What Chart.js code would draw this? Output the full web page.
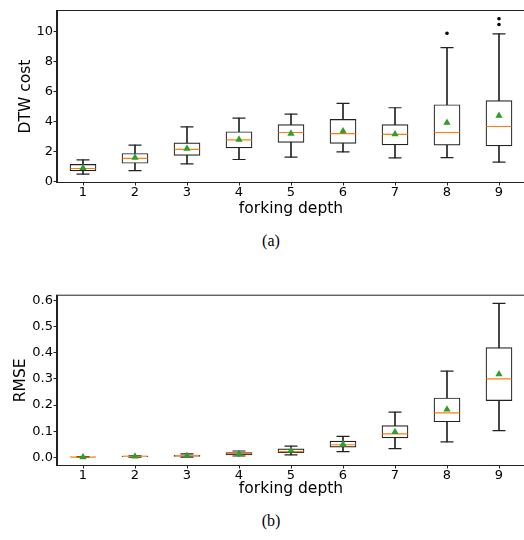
<!DOCTYPE html>
<html>
<head>
<meta charset="utf-8">
<script src="https://cdn.jsdelivr.net/npm/chart.js@4.4.1/dist/chart.umd.min.js"></script>
<style>
  body { margin: 0; width: 524px; height: 540px; overflow: hidden; background: #fff; position: relative; }
  canvas { position: absolute; left: 0; }
  .cap { position: absolute; width: 100px; left: 221px; text-align: center;
         font-family: "Liberation Serif", serif; font-size: 16px; color: #000; }
</style>
</head>
<body>
<canvas id="dtwChart" width="526" height="225" style="top:0"></canvas>
<div class="cap" style="top:232px">(a)</div>
<canvas id="rmseChart" width="526" height="225" style="top:280px"></canvas>
<div class="cap" style="top:512px">(b)</div>
<script>
// forking depth categories
const depths = ['1', '2', '3', '4', '5', '6', '7', '8', '9'];

// (a) DTW cost box stats
const dtwLow  = [0.49, 0.73, 1.18, 1.47, 1.63, 1.98, 1.58, 1.60, 1.29];
const dtwQ1   = [0.71, 1.22, 1.74, 2.25, 2.61, 2.54, 2.45, 2.43, 2.38];
const dtwMed  = [0.87, 1.54, 2.14, 2.78, 3.27, 3.20, 3.14, 3.27, 3.67];
const dtwQ3   = [1.14, 1.87, 2.58, 3.32, 3.79, 4.14, 3.79, 5.12, 5.39];
const dtwHigh = [1.45, 2.43, 3.65, 4.23, 4.50, 5.21, 4.92, 8.93, 9.84];
const dtwMean = [0.91, 1.60, 2.20, 2.80, 3.20, 3.36, 3.16, 3.92, 4.39];
const dtwFliers = [{x: '8', y: 9.89}, {x: '9', y: 10.47}, {x: '9', y: 10.85}];
const dtwTicks = [0, 2, 4, 6, 8, 10];

// (b) RMSE box stats
const rmseLow  = [0.000, 0.001, 0.001, 0.005, 0.009, 0.022, 0.033, 0.059, 0.102];
const rmseQ1   = [0.000, 0.002, 0.003, 0.009, 0.018, 0.039, 0.074, 0.136, 0.217];
const rmseMed  = [0.001, 0.004, 0.006, 0.014, 0.022, 0.048, 0.090, 0.170, 0.300];
const rmseQ3   = [0.002, 0.005, 0.008, 0.018, 0.032, 0.062, 0.121, 0.227, 0.420];
const rmseHigh = [0.003, 0.006, 0.013, 0.024, 0.043, 0.080, 0.173, 0.330, 0.589];
const rmseMean = [0.001, 0.003, 0.006, 0.013, 0.026, 0.050, 0.097, 0.183, 0.318];
const rmseFliers = [];
const rmseTicks = [0, 0.1, 0.2, 0.3, 0.4, 0.5, 0.6];

const FONT = 'DejaVu Sans';
const INK = '#222';

// matplotlib-style full frame around the plot area
const framePlugin = {
    id: 'frame',
    afterDraw(chart) {
        const a = chart.chartArea;
        const ctx = chart.ctx;
        ctx.save();
        ctx.strokeStyle = INK;
        ctx.lineWidth = 1;
        ctx.strokeRect(a.left - 0.5, a.top - 0.5, a.right - a.left + 1, a.bottom - a.top + 1);
        ctx.restore();
    }
};

function boxChart(id, s) {
    const pairs = (a, b) => a.map((v, i) => [v, b[i]]);
    const caps = depths.map((d, i) => ({x: d, y: s.low[i]}))
        .concat(depths.map((d, i) => ({x: d, y: s.high[i]})));
    const pointSet = (data, style, radius, color, fill, order) => ({
        type: 'line', data: data, showLine: false, order: order,
        pointStyle: style, pointRadius: radius,
        pointBorderColor: color, pointBackgroundColor: fill,
        pointBorderWidth: 1.2
    });

    return new Chart(document.getElementById(id), {
        type: 'bar',
        data: {
            labels: depths,
            datasets: [
                // whiskers
                { data: pairs(s.low, s.q1), backgroundColor: INK, barThickness: 1, grouped: false, order: 10 },
                { data: pairs(s.q3, s.high), backgroundColor: INK, barThickness: 1, grouped: false, order: 10 },
                // boxes
                { data: pairs(s.q1, s.q3), backgroundColor: '#fff', borderColor: INK, borderWidth: 1.2,
                  borderSkipped: false, barThickness: 26, grouped: false, order: 9 },
                pointSet(caps, 'line', 6.5, INK, INK, 8),
                pointSet(s.med, 'line', 12.5, '#ff7f0e', '#ff7f0e', 7),
                pointSet(s.mean, 'triangle', 3, '#2ca02c', '#2ca02c', 6),
                pointSet(s.fliers, 'circle', 1.2, '#000', '#000', 5)
            ]
        },
        options: {
            responsive: false,
            animation: false,
            events: [],
            devicePixelRatio: 1,
            layout: { autoPadding: false, padding: { top: s.padTop, right: 1, left: 0, bottom: 0 } },
            plugins: { legend: { display: false }, tooltip: { enabled: false } },
            scales: {
                x: {
                    offset: true,
                    grid: { offset: false, drawOnChartArea: false, drawTicks: true, tickLength: 3.5, color: INK },
                    border: { display: true, color: INK },
                    ticks: { color: '#000', padding: -1, font: { family: FONT, size: 13 } },
                    title: { display: true, text: 'forking depth', color: '#000',
                             font: { family: FONT, size: 15.5 }, padding: { top: 0, bottom: s.xTitlePad } },
                    afterFit(scale) { scale.height = s.xHeight; }
                },
                y: {
                    min: s.min,
                    max: s.max,
                    grid: { drawOnChartArea: false, drawTicks: true, tickLength: 3.5, color: INK },
                    border: { display: true, color: INK },
                    ticks: { color: '#000', padding: 0.5, font: { family: FONT, size: 13 },
                             callback: s.fmt },
                    title: { display: true, text: s.title, color: '#000',
                             font: { family: FONT, size: 15.5 }, padding: { top: s.yTitlePad, bottom: 0 } },
                    afterBuildTicks(scale) { scale.ticks = s.ticks.map(v => ({ value: v })); },
                    afterFit(scale) { scale.width = 57; }
                }
            }
        },
        plugins: [framePlugin]
    });
}

boxChart('dtwChart', {
    low: dtwLow, q1: dtwQ1, med: dtwMed, q3: dtwQ3, high: dtwHigh, mean: dtwMean, fliers: dtwFliers,
    ticks: dtwTicks, min: -0.03, max: 11.37, title: 'DTW cost',
    fmt: v => String(v),
    padTop: 11, xHeight: 43, xTitlePad: 6.7, yTitlePad: 16.7
});

boxChart('rmseChart', {
    low: rmseLow, q1: rmseQ1, med: rmseMed, q3: rmseQ3, high: rmseHigh, mean: rmseMean, fliers: rmseFliers,
    ticks: rmseTicks, min: -0.0295, max: 0.6185, title: 'RMSE',
    fmt: v => v.toFixed(1),
    padTop: 15.7, xHeight: 40, xTitlePad: 6.5, yTitlePad: 11.7
});
</script>
</body>
</html>
